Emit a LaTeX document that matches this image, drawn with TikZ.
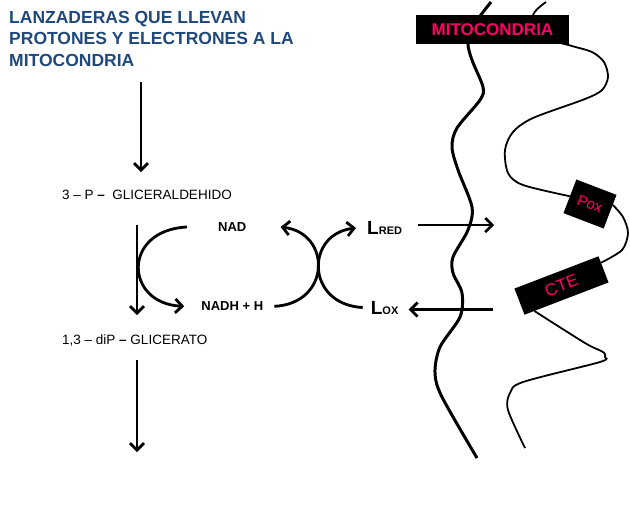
\documentclass[tikz,border=0pt]{standalone}
\usepackage{fontspec}
\setmainfont{Liberation Sans}
\usepackage{xcolor}
\usetikzlibrary{positioning,arrows.meta,backgrounds,calc}
\definecolor{mTitle}{HTML}{1F497D}
\definecolor{mPink}{HTML}{FF0066}
\newcommand{\fsz}[1]{\fontsize{#1}{#1}\selectfont}
\tikzset{
  lbl/.style={font=\fsz{13.5pt}, inner sep=0pt, anchor=west},
  cof/.style={lbl, font=\fsz{13pt}\bfseries},
  % black tags on the membrane, pink text
  tag/.style={fill=black, text=mPink, inner sep=0pt},
  flow/.style={-{Straight Barb[length=7pt,width=14pt,line width=2.8pt]}, line width=2.8pt},
  memb/.style={line width=3pt},
  membin/.style={line width=1.8pt},
}

\begin{document}
\begin{tikzpicture}[x=1pt, y=-1pt]
\useasboundingbox (0,0) rectangle (630,523);

\node[font=\fontsize{17.5pt}{21.5pt}\selectfont\bfseries, text=mTitle, align=left,
      anchor=north west, inner sep=0pt] (title) at (9,11)
  {LANZADERAS QUE LLEVAN\\PROTONES Y ELECTRONES A LA\\MITOCONDRIA};

\coordinate (ax1) at (141,0);
\coordinate (ax2) at (137,0);
\coordinate (out) at (137,452);

\node[lbl] (gal) at (62,195) {3 – P {\bfseries –}\ \ GLICERALDEHIDO};
\node[lbl] (gli) at (62,340) {1,3 – diP {\bfseries –} GLICERATO};

\node[cof] (nad) at (218,227) {NAD};
\node[cof, below=70pt of nad] (nadh) {NADH + H};

\node[cof] (lred) at (367,228) {{\fsz{19pt}L}{\fsz{11pt}RED}};
\node[cof, below=66pt of lred] (lox) {{\fsz{19pt}L}{\fsz{11pt}OX}};

\node[tag, font=\fsz{17pt}\bfseries, minimum width=153pt, minimum height=29pt]
  (mito) at (492.5,29.5) {MITOCONDRIA};
\node[tag, font=\fsz{15pt}, minimum width=43pt, minimum height=36pt, rotate=-21]
  (pox) at (590,204) {Pox};
\node[tag, font=\fsz{17pt}, minimum width=90pt, minimum height=28pt, rotate=21]
  (cte) at (561.5,285.5) {CTE};

% glycolysis
\draw[flow, shorten <=15pt, shorten >=18pt] (title.south -| ax1) -- (gal.north -| ax1);
\draw[flow, shorten <=25pt, shorten >=19pt] (gal.south -| ax2) -- (gli.north -| ax2);
\draw[flow, shorten <=14pt] (gli.south -| ax2) -- (out);

% NAD cycle and shuttle
\draw[flow] ([xshift=-31pt]nad.west) .. controls +(-65,3) and +(-60,-3) .. ([xshift=-17pt]nadh.west);
\draw[flow] ([xshift=11pt]nadh.east) .. controls +(57,-3) and +(51,6) .. ([xshift=34pt]nad.east);
\draw[flow] ([xshift=-8pt]lox.west) .. controls +(-57,-3) and +(-51,6) .. ([xshift=-11pt]lred.west);
\draw[flow] ([xshift=16pt,yshift=3pt]lred.east) -- +(76,0);
\draw[flow] ([xshift=94pt,yshift=-2pt]lox.east) -- ([xshift=10pt,yshift=-2pt]lox.east);

% membranes
\begin{scope}[on background layer]
\draw[memb] plot[smooth] coordinates {(491,2) (476,22) (468,42) (472,60) (483,87)
  (480,100) (457,128) (452,147) (458,170) (472,207) (468,230) (453,257) (453,273)
  (462,293) (460,317) (440,347) (435,373) (442,397) (477,458)};
\draw[membin] plot[smooth] coordinates {(546,2) (533,16) (548,38) (572,46) (592,52)
  (604,62) (608,77) (602,90) (585,99) (533,118) (513,132) (505,150) (508,173)
  (523,185) (pox.west)};
\draw[membin] plot[smooth] coordinates {($(pox.east)!0.4!(pox.north east)$) (623,217)
  (628,233) (622,250) ($(cte.north east)!0.25!(cte.south east)$)};
\draw[membin] plot[smooth] coordinates {($(cte.south west)!0.12!(cte.south east)$)
  (585,343) (603,352) (605,357) (600,362) (523,382) (510,393) (508,410) (525,448)};
\end{scope}

\end{tikzpicture}
\end{document}
